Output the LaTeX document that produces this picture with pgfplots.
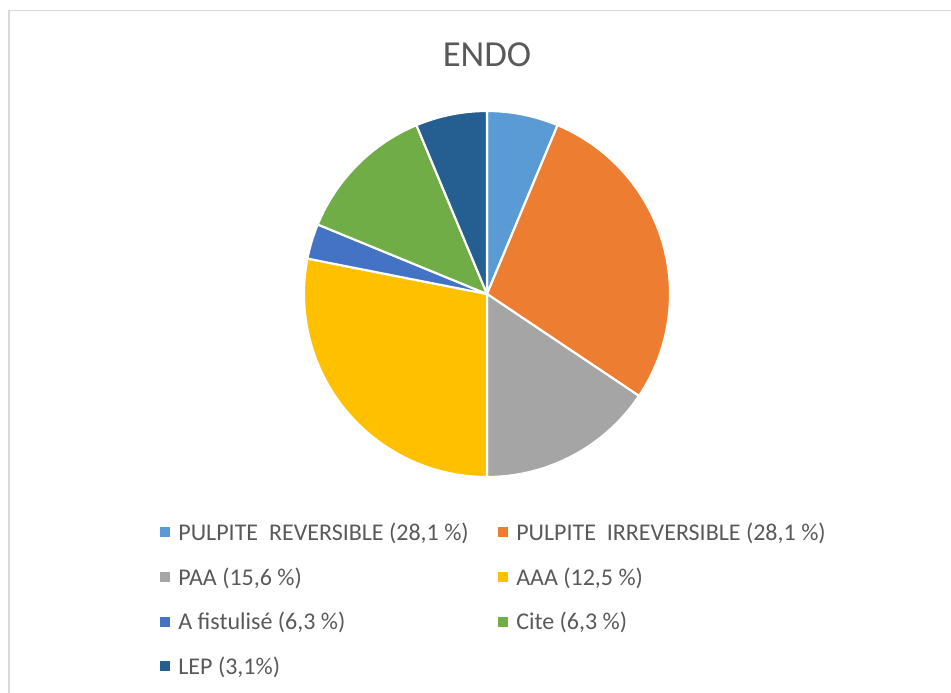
\documentclass[border=0pt]{standalone}
\usepackage{fontspec}
\setmainfont{Carlito}
\usepackage{pgfplots}
\usepackage{pgfplotstable}
\pgfplotsset{compat=1.18}

\definecolor{c1}{HTML}{5B9BD5}
\definecolor{c2}{HTML}{ED7D31}
\definecolor{c3}{HTML}{A5A5A5}
\definecolor{c4}{HTML}{FFC000}
\definecolor{c5}{HTML}{4472C4}
\definecolor{c6}{HTML}{70AD47}
\definecolor{c7}{HTML}{255E91}
\definecolor{txt}{HTML}{595959}
\definecolor{frame}{HTML}{D9D9D9}

% slice sizes in percent, clockwise from 12 o'clock
\pgfplotstableread{
value col
6.3  c1
28.1 c2
15.6 c3
28.1 c4
3.1  c5
12.5 c6
6.3  c7
}\piedata

\begin{document}
\begin{tikzpicture}[x=0.75pt,y=-0.75pt]
\path[use as bounding box] (0,0) rectangle (951,693);
\draw[frame, line width=1.1pt] (9,693) -- (9,10.5) -- (951,10.5);
\node[txt, font=\fontsize{27.5}{30}\selectfont] at (487,55) {ENDO};
\coordinate (pc) at (487,294);

\begin{axis}[
    at={(pc)}, anchor=center,
    scale only axis,
    width=274.5pt, height=274.5pt,
    xmin=-1, xmax=1, ymin=-1, ymax=1,
    hide axis,
    legend columns=2,
    legend cell align=left,
    legend image code/.code={\fill[#1] (0pt,-1.5pt) rectangle (6.8pt,5.3pt);},
    legend style={
        draw=none, fill=none,
        at={(axis description cs:-0.3934,-0.1257)}, anchor=north west,
        inner sep=0pt,
        font=\fontsize{18}{20}\selectfont,
        text=txt,
        nodes={inner sep=0pt, text height=13pt, text depth=4pt},
        row sep=16.5pt,
        /tikz/every odd column/.append style={column sep=6.4pt},
        /tikz/every even column/.append style={column sep=22pt},
    },
]
\pgfplotsextra{
  \def\angA{90}
  \pgfplotsforeachungrouped \i in {0,...,6}{
    \pgfplotstablegetelem{\i}{value}\of\piedata
    \pgfmathsetmacro\angB{\angA-3.6*\pgfplotsretval}
    \pgfplotstablegetelem{\i}{col}\of\piedata
    \edef\slicecol{\pgfplotsretval}
    \fill[\slicecol, draw=white, line width=1.6pt, line join=round]
      (axis cs:0,0) -- (axis cs:{cos(\angA)},{sin(\angA)})
      arc[start angle=\angA, end angle=\angB, radius=137.25pt] -- cycle;
    \let\angA\angB
  }
}
\addlegendimage{c1}\addlegendentry{PULPITE\ \ REVERSIBLE (28,1 \%)}
\addlegendimage{c2}\addlegendentry{PULPITE\ \ IRREVERSIBLE (28,1 \%)}
\addlegendimage{c3}\addlegendentry{PAA (15,6 \%)}
\addlegendimage{c4}\addlegendentry{AAA (12,5 \%)}
\addlegendimage{c5}\addlegendentry{A fistulisé (6,3 \%)}
\addlegendimage{c6}\addlegendentry{Cite (6,3 \%)}
\addlegendimage{c7}\addlegendentry{LEP (3,1\%)}
\end{axis}
\end{tikzpicture}
\end{document}
